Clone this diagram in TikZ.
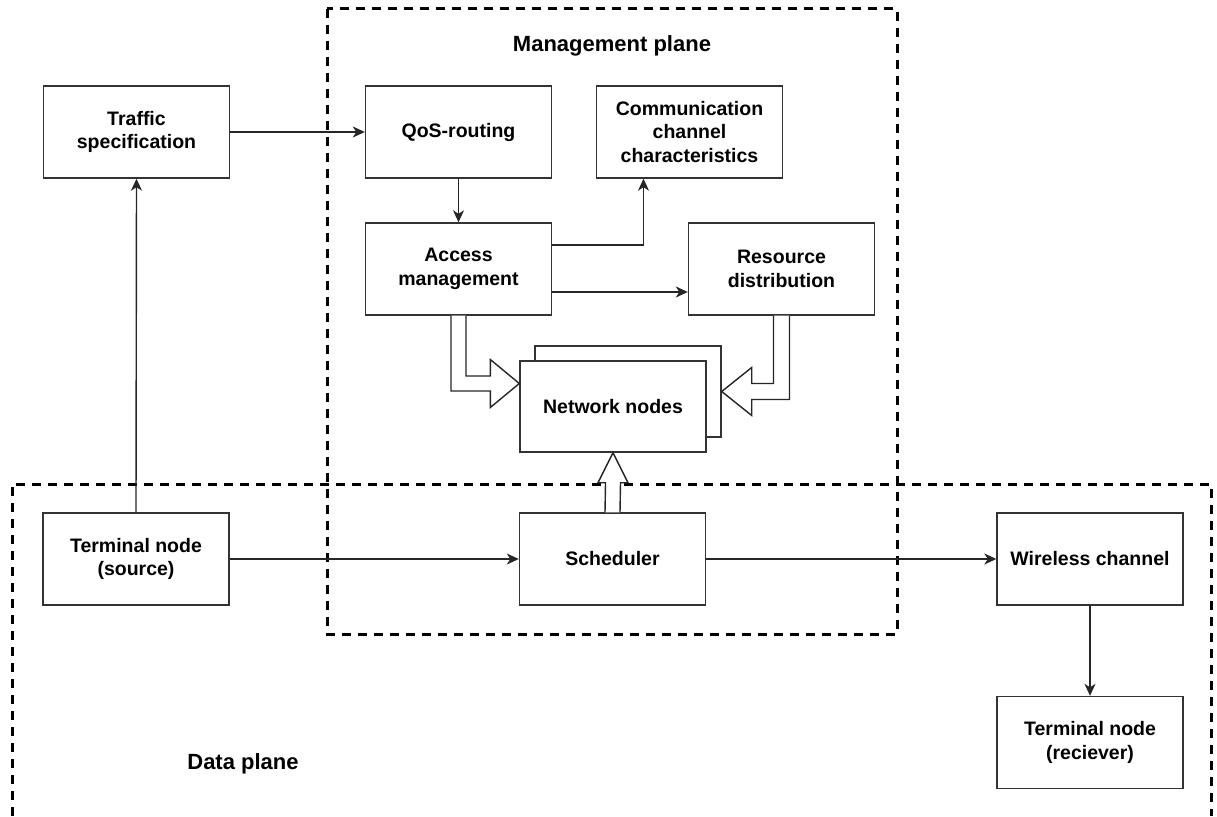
\documentclass[tikz,border=0pt]{standalone}
\usepackage{fontspec}
\setmainfont{Liberation Sans}
\usetikzlibrary{arrows.meta,calc}
\tikzset{>={Stealth[length=12pt,width=11pt,inset=3.5pt]}}
\tikzset{
  block/.style={draw=black!80, line width=1.4pt, fill=white, minimum width=186pt, minimum height=92pt, inner sep=0pt, align=center, font=\fontsize{19.5}{23.5}\selectfont\bfseries},
  plane/.style={draw=black, line width=3pt, dash pattern=on 9pt off 7pt},
  planelabel/.style={font=\fontsize{22}{26}\selectfont\bfseries},
  link/.style={->, line width=1.4pt, draw=black!85},
  fat/.style={draw=black!85, line width=1.4pt, fill=white, line join=miter}
}

\begin{document}
\begin{tikzpicture}[x=1pt,y=-1pt]
  \useasboundingbox (0,0) rectangle (1217,816);
  % planes
  \draw[plane] (327,9) rectangle (897,634);
  \draw[plane] (12,816) -- (12,484) -- (1211,484) -- (1211,816);
  \node[planelabel] (mplane) at (612,46) {Management plane};
  \node[planelabel] (dplane) at (243,764) {Data plane};
  % management plane blocks
  \node[block] (traffic) at (136.5,132) {Traffic\\specification};
  \node[block] (qos) at (458.5,132) {QoS-routing};
  \node[block] (comm) at (689.5,132) {Communication\\channel\\characteristics};
  \node[block] (access) at (458.5,269) {Access\\management};
  \node[block] (resource) at (781.5,269) {Resource\\distribution};
  \node[block, minimum height=91pt] (netback) at (628,391.5) {};
  \node[block, minimum height=91pt] (net) at (613,406.5) {Network nodes};
  % data plane blocks
  \node[block] (src) at (136,559) {Terminal node\\(source)};
  \node[block] (sched) at (612.5,559) {Scheduler};
  \node[block] (wireless) at (1090,559) {Wireless channel};
  \node[block] (rcv) at (1090,742.5) {Terminal node\\(reciever)};
  % connectors
  \draw[link] (traffic.east) -- (qos.west);
  \draw[link] (qos.south) -- (access.north);
  \draw[link] ($(access.east)+(0,-24)$) -| ($(comm.south)+(-46,0)$);
  \draw[link] ($(access.east)+(0,23)$) -- ($(resource.west)+(0,23)$);
  \draw[link] (src.north) -- (traffic.south);
  \draw[link] (src.east) -- (sched.west);
  \draw[link] (sched.east) -- (wireless.west);
  \draw[link] (wireless.south) -- (rcv.north);
  % hollow arrows
  \coordinate (lt) at ($(net.west)+(0,-23)$);
  \coordinate (rt) at (netback.east);
  \coordinate (ut) at (net.south);
  \draw[fat] ($(access.south)+(-7.5,0)$) |- ($(lt)+(-29,7.5)$) -- ++(0,16.5) -- (lt) -- ($(lt)+(-29,-24)$) -- ++(0,16.5) -| ($(access.south)+(7.5,0)$);
  \draw[fat] ($(resource.south)+(8,0)$) |- ($(rt)+(30,8)$) -- ++(0,16) -- (rt) -- ($(rt)+(30,-24)$) -- ++(0,16) -| ($(resource.south)+(-8,0)$);
  \draw[fat] ($(sched.north)+(-7.5,0)$) -- ($(ut)+(-7.5,30)$) -- ++(-7.5,0) -- (ut) -- ($(ut)+(15,30)$) -- ++(-7.5,0) -- ($(sched.north)+(7.5,0)$);
\end{tikzpicture}
\end{document}
